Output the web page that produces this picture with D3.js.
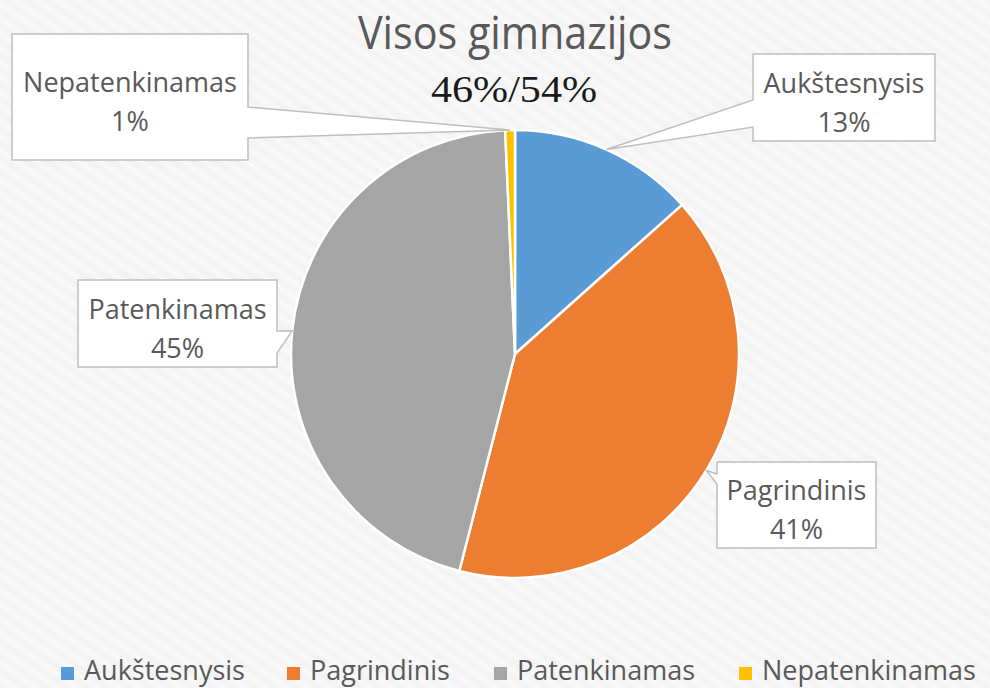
<!DOCTYPE html>
<html lang="lt">
<head>
	<meta charset="UTF-8">
	<title>Visos gimnazijos</title>
	<script src="https://cdn.jsdelivr.net/npm/d3@7"></script>
	<style>
		body { margin: 0; background: #f5f5f5; }
		svg { display: block; }
		.serif { font-family: "Liberation Serif", "DejaVu Sans", serif; font-weight: 200; }
	</style>
</head>
<body>
	<div id="vis"></div>

	<script>
		var width = 990;
		var height = 688;

		// data
		var categories = ["Aukštesnysis", "Pagrindinis", "Patenkinamas", "Nepatenkinamas"];
		var shares = [13.4, 40.6, 45.3, 0.7];
		var percentLabels = ["13%", "41%", "45%", "1%"];
		var colors = ["#5b9bd5", "#ed7d31", "#a5a5a5", "#ffc000"];
		var titleText = "Visos gimnazijos";
		var subtitleText = "46%/54%";

		// callout box layout: x, y, w, h, side the pointer leaves from, pointer base (y0,y1)
		var callouts = [
			{ x: 753, y: 54, w: 182, h: 87, side: "left", b0: 100, b1: 127 },
			{ x: 717, y: 462, w: 159, h: 86, side: "left", b0: 474, b1: 484 },
			{ x: 78, y: 280, w: 199, h: 87, side: "right", b0: 331, b1: 353 },
			{ x: 12, y: 34, w: 236, h: 126, side: "right", b0: 107, b1: 138 }
		];

		var cx = 515, cy = 354, radius = 224;
		var textColor = "#595959";
		var sansFont = "'Open Sans', 'Noto Sans', sans-serif";

		var svg = d3.select("#vis").append("svg")
				.attr("width", width)
				.attr("height", height);

		// faint textured background
		var defs = svg.append("defs");
		var pat = defs.append("pattern")
				.attr("id", "tex")
				.attr("width", 12)
				.attr("height", 12)
				.attr("patternUnits", "userSpaceOnUse")
				.attr("patternTransform", "rotate(35)");
		pat.append("rect").attr("width", 12).attr("height", 12).attr("fill", "#f5f5f5");
		pat.append("line").attr("x1", 0).attr("y1", 3).attr("x2", 12).attr("y2", 3)
				.attr("stroke", "#f9f9f9").attr("stroke-width", 3);
		pat.append("line").attr("x1", 0).attr("y1", 9).attr("x2", 12).attr("y2", 9)
				.attr("stroke", "#f1f1f1").attr("stroke-width", 1.5);

		svg.append("rect")
				.attr("width", width)
				.attr("height", height)
				.attr("fill", "url(#tex)");

		// titles
		svg.append("text")
				.attr("x", 515)
				.attr("y", 49)
				.attr("text-anchor", "middle")
				.style("font-family", sansFont)
				.attr("font-size", 45)
				.attr("fill", textColor)
				.attr("textLength", 314)
				.attr("lengthAdjust", "spacingAndGlyphs")
				.text(titleText);

		svg.append("text")
				.attr("class", "serif")
				.attr("x", 514)
				.attr("y", 102)
				.attr("text-anchor", "middle")
				.attr("font-size", 38)
				.attr("fill", "#1a1a1a")
				.attr("textLength", 166)
				.attr("lengthAdjust", "spacingAndGlyphs")
				.text(subtitleText);

		// pie
		var pie = d3.pie().sort(null).value(function(d) { return d; });
		var arcs = pie(shares);
		var arc = d3.arc().innerRadius(0).outerRadius(radius);

		var g = svg.append("g").attr("transform", "translate(" + cx + "," + cy + ")");

		g.selectAll("path")
				.data(arcs)
				.enter().append("path")
				.attr("d", arc)
				.attr("fill", function(d, i) { return colors[i]; })
				.attr("stroke", "#ffffff")
				.attr("stroke-width", 2.5)
				.attr("stroke-linejoin", "round");

		// callouts pointing at the outer edge of each slice
		function tipOf(d) {
			var a = (d.startAngle + d.endAngle) / 2;
			return [cx + radius * Math.sin(a), cy - radius * Math.cos(a)];
		}

		function calloutPath(c, tip) {
			var x0 = c.x, y0 = c.y, x1 = c.x + c.w, y1 = c.y + c.h;
			var p = d3.path();
			p.moveTo(x0, y0);
			p.lineTo(x1, y0);
			if (c.side === "right") {
				p.lineTo(x1, c.b0);
				p.lineTo(tip[0], tip[1]);
				p.lineTo(x1, c.b1);
			}
			p.lineTo(x1, y1);
			p.lineTo(x0, y1);
			if (c.side === "left") {
				p.lineTo(x0, c.b1);
				p.lineTo(tip[0], tip[1]);
				p.lineTo(x0, c.b0);
			}
			p.closePath();
			return p.toString();
		}

		var labels = svg.append("g").style("font-family", sansFont);

		arcs.forEach(function(d, i) {
			var c = callouts[i];
			var tip = tipOf(d);
			labels.append("path")
					.attr("d", calloutPath(c, tip))
					.attr("fill", "#ffffff")
					.attr("stroke", "#bfbfbf")
					.attr("stroke-width", 1.5);

			var mx = c.x + c.w / 2;
			var my = c.y + c.h / 2;
			labels.append("text")
					.attr("x", mx)
					.attr("y", my - 5)
					.attr("text-anchor", "middle")
					.attr("font-size", 27)
					.attr("fill", textColor)
					.text(categories[i]);
			labels.append("text")
					.attr("x", mx)
					.attr("y", my + 34)
					.attr("text-anchor", "middle")
					.attr("font-size", 27)
					.attr("fill", textColor)
					.text(percentLabels[i]);
		});

		// legend
		var legendX = [61, 287, 494, 739];
		var legend = svg.append("g").style("font-family", sansFont);
		categories.forEach(function(name, i) {
			legend.append("rect")
					.attr("x", legendX[i])
					.attr("y", 667)
					.attr("width", 13)
					.attr("height", 13)
					.attr("fill", colors[i]);
			legend.append("text")
					.attr("x", legendX[i] + 23)
					.attr("y", 680)
					.attr("font-size", 27)
					.attr("fill", textColor)
					.text(name);
		});
	</script>
</body>
</html>
